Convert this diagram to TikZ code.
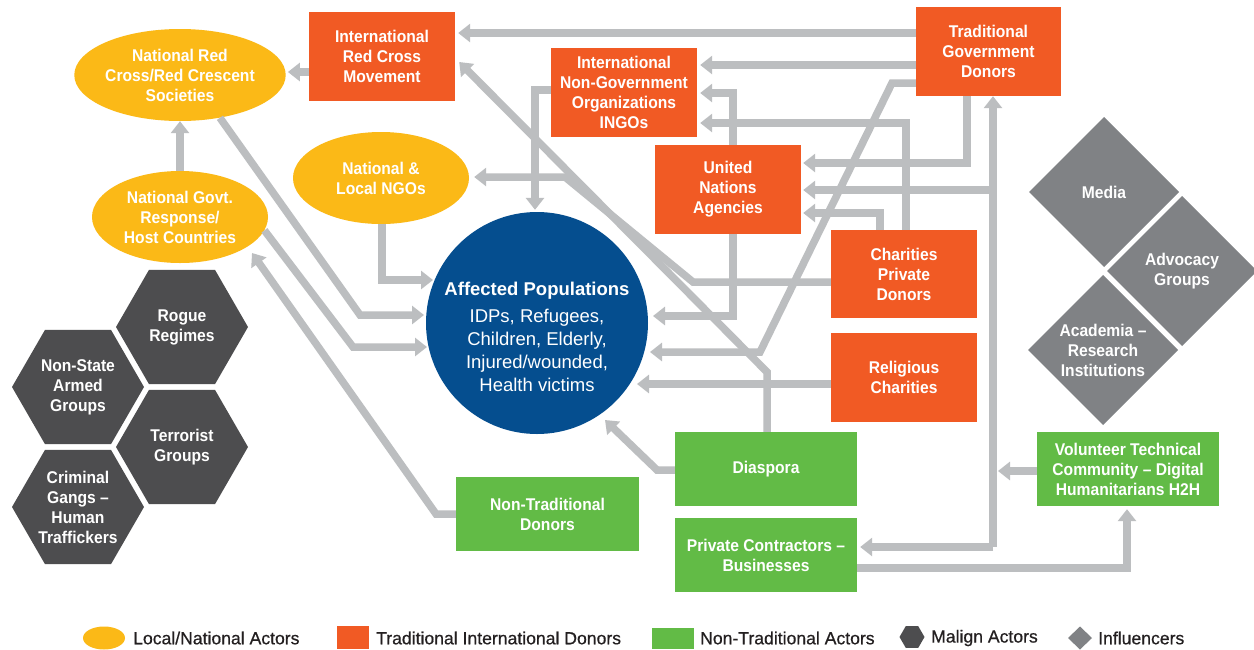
\documentclass[tikz,border=0pt]{standalone}
\usepackage{fontspec}
\setmainfont{Liberation Sans}
\newfontfamily\labelfont{Liberation Sans}[FakeStretch=0.92]
\newfontfamily\keyfont{Liberation Sans}[FakeBold=0.6]
\usetikzlibrary{arrows.meta,shapes.geometric}
\definecolor{actoryellow}{HTML}{FBB917}
\definecolor{donororange}{HTML}{F15A24}
\definecolor{popblue}{HTML}{054E8F}
\definecolor{ntgreen}{HTML}{62BB46}
\definecolor{malign}{HTML}{4D4D4F}
\definecolor{influencer}{HTML}{808285}
\definecolor{linkgray}{HTML}{BCBEC0}
\definecolor{legendink}{HTML}{231F20}

\begin{document}
\begin{tikzpicture}[x=1pt,y=-1pt,
  lbl/.style={text=white,font=\labelfont\fontsize{17}{20}\selectfont\bfseries,align=center,inner sep=0pt},
  tradbox/.style={lbl,fill=donororange,rectangle,minimum width=146pt,minimum height=89pt},
  ntbox/.style={lbl,fill=ntgreen,rectangle,minimum width=182pt,minimum height=74pt},
  localell/.style={lbl,fill=actoryellow,ellipse,minimum width=176pt,minimum height=92pt},
  link/.style={draw=linkgray,line width=7.5pt,-{Triangle[width=18pt,length=12pt]}},
  legtext/.style={anchor=west,font=\keyfont\fontsize{17.6}{20}\selectfont,text=legendink,inner sep=0pt}
]
\useasboundingbox (0,0) rectangle (1254,649);
\fill[white] (0,0) rectangle (1254,649);

% ---- actors ----
\node[tradbox] (ircm) at (382,56) {International\\Red Cross\\Movement};
\node[localell] (nrc) at (180,75) {National Red\\Cross/Red Crescent\\Societies};
\node[localell] (ngov) at (180,217) {National Govt.\\Response/\\Host Countries};
\node[localell] (nlngo) at (381,178) {National \&\\Local NGOs};
\node[tradbox] (ingo) at (624,92.5) {International\\Non-Government\\Organizations\\INGOs};
\node[tradbox,minimum width=145pt] (tgd) at (988.5,51.5) {Traditional\\Government\\Donors};
\node[tradbox] (un) at (728,189.5) {United\\Nations\\Agencies};
\node[tradbox,minimum height=88pt] (cpd) at (904,274) {Charities\\Private\\Donors};
\node[tradbox] (rc) at (904,377.5) {Religious\\Charities};
\node[ntbox] (dia) at (766,469) {Diaspora};
\node[ntbox] (pc) at (766,555) {Private Contractors –\\Businesses};
\node[ntbox,minimum width=183pt] (ntd) at (547.5,514) {Non-Traditional\\Donors};
\node[ntbox] (vtc) at (1128,469) {Volunteer Technical\\Community – Digital\\Humanitarians H2H};

\node[circle,fill=popblue,minimum size=222pt,inner sep=0pt] (pop) at (537,323) {};
\node[text=white,align=center,inner sep=0pt,font=\fontsize{18.5}{23}\selectfont] (poptext) at (537,337)
  {{\bfseries Affected Populations}\\[4pt]IDPs, Refugees,\\Children, Elderly,\\Injured/wounded,\\Health victims};

% ---- malign actors (hexagons) ----
\foreach \cx/\cy/\nm/\txt in {182/327/rogue/{Rogue\\Regimes},
                              78/387/nsag/{Non-State\\Armed\\Groups},
                              182/447/terror/{Terrorist\\Groups},
                              78/507/gangs/{Criminal\\Gangs –\\Human\\Traffickers}}{
  \fill[malign] (\cx,\cy) +(0:66) -- +(60:66) -- +(120:66) -- +(180:66) -- +(240:66) -- +(300:66) -- cycle;
  \node[lbl] (\nm) at (\cx,\cy) {\txt};
}

% ---- influencers (diamonds) ----
\foreach \cx/\cy/\nm/\txt in {1104/192/media/Media,
                              1182/271/advocacy/{Advocacy\\Groups},
                              1103/350/academia/{Academia –\\Research\\Institutions}}{
  \fill[influencer] (\cx,\cy) +(75,0) -- +(0,-75) -- +(-75,0) -- +(0,75) -- cycle;
  \node[lbl] (\nm) at (\cx,\cy) {\txt};
}

% ---- bend points ----
\coordinate (e1) at (892,83);   \coordinate (e2) at (760,352);
\coordinate (f1) at (693,282);  \coordinate (f2) at (565,177);
\coordinate (g1) at (535,90);
\coordinate (h1) at (733,93);
\coordinate (i1) at (906,123);
\coordinate (j1) at (967,163);
\coordinate (k0) at (993,547);  \coordinate (k1) at (993,190); \coordinate (k2) at (998,471);
\coordinate (l1) at (880,213);
\coordinate (m1) at (1127,568);
\coordinate (n1) at (657,470);
\coordinate (p1) at (733,316);
\coordinate (q1) at (767,372);
\coordinate (r1) at (382,280);
\coordinate (s1) at (360,315);
\coordinate (t1) at (353,347);
\coordinate (u1) at (436,514);

% ---- flows ----
\draw[link] ([yshift=-16pt]ircm.west) -- ([xshift=2pt,yshift=3pt]nrc.east);
\draw[link] (ngov.north) -- (nrc.south);
\draw[link] ([yshift=18.5pt]tgd.west) -- ([xshift=3pt,yshift=23pt]ircm.east);
\draw[link] ([yshift=-13.5pt]tgd.west) -- ([xshift=3pt,yshift=27.5pt]ingo.east);
\draw[link] ([yshift=-31.5pt]tgd.west) -- (e1) -- (e2) -- ([xshift=113pt,yshift=-29pt]pop.center);
\draw[link] ([yshift=-8pt]cpd.west) -- (f1) -- (f2) -- ([xshift=5pt,yshift=1pt]nlngo.east);
\draw[link] ([yshift=2.5pt]ingo.west) -- (g1) -- ([xshift=-2pt,yshift=2pt]pop.north);
\draw[link] ([xshift=5pt]un.north) -- (h1) -- ([xshift=3pt,yshift=-0.5pt]ingo.east);
\draw[link] ([xshift=2pt]cpd.north) -- (i1) -- ([xshift=3pt,yshift=-30.5pt]ingo.east);
\draw[link] ([xshift=-21.5pt]tgd.south) -- (j1) -- ([xshift=2pt,yshift=26.5pt]un.east);
\draw[link] (k0) -- ([xshift=4.5pt]tgd.south);
\draw[link] (k0) -- ([xshift=3pt,yshift=8pt]pc.east);
\draw[link] (k1) -- ([xshift=2pt,yshift=-0.5pt]un.east);
\draw[link] ([yshift=-2pt]vtc.west) -- (k2);
\draw[link] ([xshift=-24pt]cpd.north) -- (l1) -- ([xshift=2pt,yshift=-23.5pt]un.east);
\draw[link] ([yshift=-13pt]pc.east) -- (m1) -- ([xshift=-1pt,yshift=-3pt]vtc.south);
\draw[link] ([yshift=-1pt]dia.west) -- (n1) -- ([xshift=68pt,yshift=-97pt]pop.center);
\draw[link] ([yshift=-6.5pt]rc.west) -- ([xshift=100pt,yshift=-61pt]pop.center);
\draw[link] ([xshift=5pt]un.south) -- (p1) -- ([xshift=116pt,yshift=7pt]pop.center);
\draw[link] ([xshift=1pt]dia.north) -- (q1) -- ([xshift=4pt,yshift=-6pt]ircm.east);
\draw[link] ([xshift=1pt]nlngo.south) -- (r1) -- ([xshift=-104pt,yshift=43pt]pop.center);
\draw[link] (nrc.-47) -- (s1) -- ([xshift=-113pt,yshift=8pt]pop.center);
\draw[link] (ngov.-9) -- (t1) -- ([xshift=-110pt,yshift=-24pt]pop.center);
\draw[link] (ntd.west) -- (u1) -- ([xshift=72pt,yshift=-36pt]ngov.center);

% ---- legend ----
\node[ellipse,fill=actoryellow,minimum width=42pt,minimum height=23pt,inner sep=0pt] (keylocal) at (104,638) {};
\node[legtext] (keylocaltxt) at (133,638) {Local/National Actors};
\node[rectangle,fill=donororange,minimum width=32pt,minimum height=23pt,inner sep=0pt] (keytrad) at (353,637.5) {};
\node[legtext] (keytradtxt) at (376,638) {Traditional International Donors};
\node[rectangle,fill=ntgreen,minimum width=42pt,minimum height=21pt,inner sep=0pt] (keynt) at (673,638.5) {};
\node[legtext] (keynttxt) at (700,638) {Non-Traditional Actors};
\fill[malign] (912,637) +(0:12.5) -- +(60:12.5) -- +(120:12.5) -- +(180:12.5) -- +(240:12.5) -- +(300:12.5) -- cycle;
\node[legtext] (keymaligntxt) at (931,638) {Malign Actors};
\fill[influencer] (1080,638) +(12,0) -- +(0,-11.5) -- +(-12,0) -- +(0,11.5) -- cycle;
\node[legtext] (keyinfltxt) at (1098,638) {Influencers};
\end{tikzpicture}
\end{document}
